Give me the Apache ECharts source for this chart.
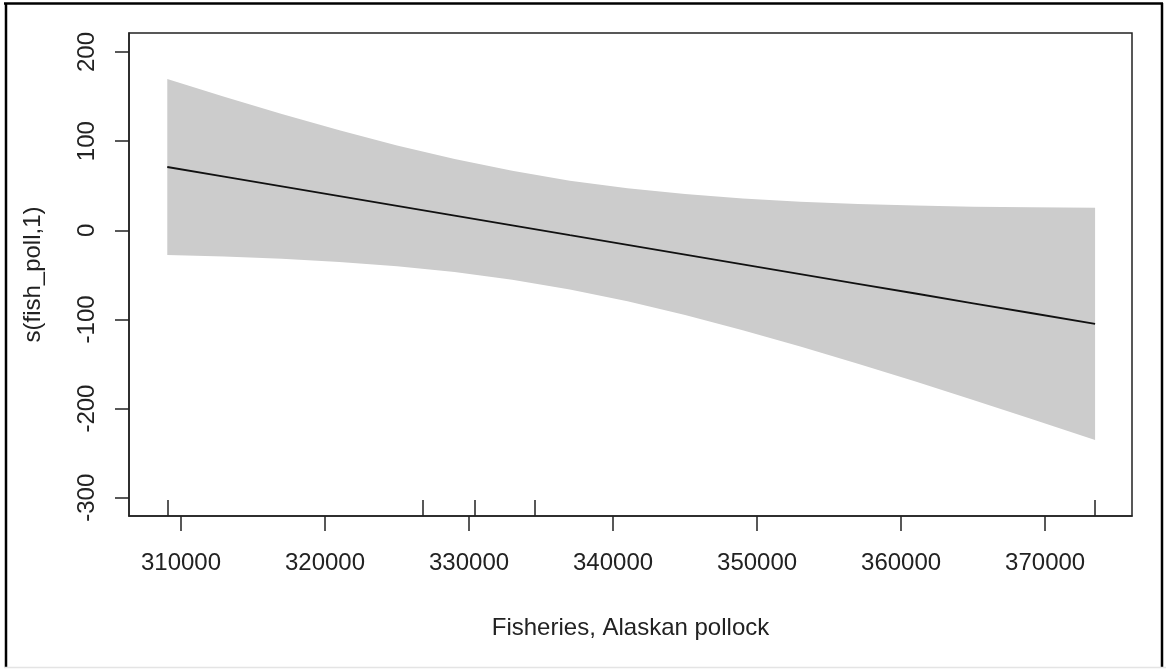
<!DOCTYPE html>
<html>
<head>
<meta charset="utf-8">
<title>s(fish_poll,1)</title>
<script src="https://cdn.jsdelivr.net/npm/echarts@6/dist/echarts.min.js"></script>
<style>
  html, body { margin: 0; padding: 0; background: #fff; }
  #chart { width: 1166px; height: 669px; }
</style>
</head>
<body>
<div id="chart"></div>
<script>
// Smooth term of the GAM: fitted effect with its confidence band
const catchX   = [309049, 313000, 317000, 321000, 325000, 329000, 333000, 337000, 341000,
                  345000, 349000, 353000, 357000, 361000, 365000, 369000, 373467];
const fitY     = [71.0, 60.2, 49.3, 38.3, 27.4, 16.5, 5.6, -5.4, -16.3,
                  -27.2, -38.2, -49.1, -60.0, -70.9, -81.9, -92.8, -105.0];
const upperY   = [169.6, 149.8, 130.5, 112.2, 95.2, 79.9, 66.7, 55.7, 47.1,
                  40.6, 35.7, 32.1, 29.6, 27.8, 26.5, 25.7, 25.2];
const lowerY   = [-27.6, -29.4, -31.9, -35.6, -40.4, -46.9, -55.5, -66.5, -79.7,
                  -95.0, -112.1, -130.3, -149.6, -169.6, -190.3, -211.3, -235.2];

// Observed covariate values shown as a rug
const rugX = [309049, 326815, 330424, 334566, 373467];

// Tick labels
const xTicks = [310000, 320000, 330000, 340000, 350000, 360000, 370000];
const yTicks = [-300, -200, -100, 0, 100, 200];

const xRange = [306391, 376030];
const yRange = [-320.5, 221.3];

const textColor = '#222';
const fontFamily = 'Liberation Sans, Arial, sans-serif';
const fontSize = 24;

const chart = echarts.init(document.getElementById('chart'), null, { renderer: 'canvas' });

const bandPoly = catchX.map((x, i) => [x, upperY[i]])
  .concat(catchX.slice().reverse().map((x, i) => [x, lowerY[catchX.length - 1 - i]]));

chart.setOption({
  animation: false,
  backgroundColor: '#fff',
  grid: {
    left: 129, top: 33, right: 34, bottom: 153,
    show: true, borderColor: '#222', borderWidth: 1.5, backgroundColor: 'transparent'
  },
  xAxis: [
    {
      type: 'value', min: xRange[0], max: xRange[1],
      name: 'Fisheries, Alaskan pollock',
      nameLocation: 'middle', nameGap: 100,
      nameTextStyle: { color: textColor, fontSize: fontSize, fontFamily: fontFamily },
      axisLine: { show: true, onZero: false, lineStyle: { color: '#222', width: 1.5 } },
      axisTick: { show: true, length: 15, customValues: xTicks, lineStyle: { color: '#222', width: 1.5 } },
      axisLabel: {
        customValues: xTicks, margin: 47, verticalAlign: 'middle',
        color: textColor, fontSize: fontSize, fontFamily: fontFamily,
        formatter: v => String(v)
      },
      splitLine: { show: false }
    },
    {
      type: 'value', min: xRange[0], max: xRange[1], position: 'bottom',
      axisLine: { show: false, onZero: false },
      axisTick: { show: true, inside: true, length: 16, customValues: rugX, lineStyle: { color: '#222', width: 1.5 } },
      axisLabel: { show: false },
      splitLine: { show: false },
      z: 5
    }
  ],
  yAxis: {
    type: 'value', min: yRange[0], max: yRange[1],
    name: 's(fish_poll,1)',
    nameLocation: 'middle', nameGap: 84, nameRotate: 90,
    nameTextStyle: { color: textColor, fontSize: fontSize, fontFamily: fontFamily },
    axisLine: { show: true, onZero: false, lineStyle: { color: '#222', width: 1.5 } },
    axisTick: { show: true, length: 14, customValues: yTicks, lineStyle: { color: '#222', width: 1.5 } },
    axisLabel: {
      customValues: yTicks, rotate: 90, margin: 30,
      color: textColor, fontSize: fontSize, fontFamily: fontFamily
    },
    splitLine: { show: false }
  },
  graphic: [
    { type: 'line', shape: { x1: 4, y1: 3.5, x2: 1163, y2: 3.5 }, style: { stroke: '#000', lineWidth: 2.5 } },
    { type: 'line', shape: { x1: 6, y1: 3, x2: 6, y2: 667 }, style: { stroke: '#000', lineWidth: 2.5 } },
    { type: 'line', shape: { x1: 1162, y1: 3, x2: 1162, y2: 667 }, style: { stroke: '#000', lineWidth: 2.5 } },
    { type: 'line', shape: { x1: 4, y1: 667.5, x2: 1166, y2: 667.5 }, style: { stroke: '#e4e4e4', lineWidth: 1.5 } }
  ],
  series: [
    {
      type: 'custom',
      name: 'band',
      xAxisIndex: 0,
      coordinateSystem: 'cartesian2d',
      data: [0],
      silent: true,
      z: 1,
      renderItem: (params, api) => ({
        type: 'polygon',
        shape: { points: bandPoly.map(p => api.coord(p)) },
        style: { fill: '#cccccc', stroke: null }
      })
    },
    {
      type: 'line',
      name: 'fit',
      xAxisIndex: 0,
      data: catchX.map((x, i) => [x, fitY[i]]),
      showSymbol: false,
      lineStyle: { color: '#111', width: 1.8 },
      z: 3
    }
  ]
});
</script>
</body>
</html>
